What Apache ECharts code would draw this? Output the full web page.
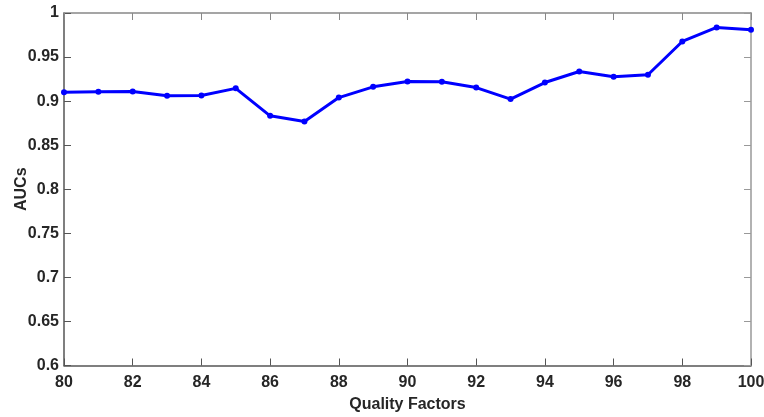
<!DOCTYPE html>
<html>
<head>
<meta charset="utf-8">
<script src="https://cdn.jsdelivr.net/npm/echarts@6/dist/echarts.min.js"></script>
<style>
  html, body { margin: 0; padding: 0; background: #fff; }
  #chart { width: 764px; height: 417px; }
</style>
</head>
<body>
<div id="chart"></div>
<script>
// JPEG quality factors and the AUC measured at each one
const qualityFactors = [80, 81, 82, 83, 84, 85, 86, 87, 88, 89, 90, 91, 92, 93, 94, 95, 96, 97, 98, 99, 100];
const aucValues = [0.910, 0.9106, 0.911, 0.906, 0.9064, 0.9145, 0.8833, 0.8768, 0.904, 0.9162, 0.9222, 0.9219,
                   0.9154, 0.9023, 0.9211, 0.9336, 0.9276, 0.9299, 0.9677, 0.9836, 0.981];
const yTicks = [0.6, 0.65, 0.7, 0.75, 0.8, 0.85, 0.9, 0.95, 1];

const fontFamily = '"Liberation Sans", Arial, Helvetica, sans-serif';
const labelStyle = { color: '#262626', fontSize: 16, fontWeight: 'bold', fontFamily };

const chart = echarts.init(document.getElementById('chart'), null, { renderer: 'canvas' });

const hiddenLabels = { show: false };
chart.setOption({
  animation: false,
  grid: { left: 64, right: 13, top: 13, bottom: 51.5, containLabel: false, outerBoundsMode: 'none' },
  xAxis: [
    {
      type: 'value', min: 80, max: 100, interval: 2,
      name: 'Quality Factors', nameLocation: 'middle', nameGap: 31, nameMoveOverlap: false,
      nameTextStyle: { color: '#262626', fontSize: 16, fontWeight: 'bold', fontFamily },
      axisLine: { show: true, onZero: false, lineStyle: { color: '#555', width: 1.5 } },
      axisTick: { show: true, inside: true, length: 7, lineStyle: { color: '#555' } },
      axisLabel: Object.assign({ margin: 9 }, labelStyle),
      splitLine: { show: false }
    },
    {
      type: 'value', min: 80, max: 100, interval: 2, position: 'top',
      axisLine: { show: true, onZero: false, lineStyle: { color: '#888', width: 1.5 } },
      axisTick: { show: true, inside: true, length: 7, lineStyle: { color: '#888' } },
      axisLabel: hiddenLabels, splitLine: { show: false }
    }
  ],
  yAxis: [
    {
      type: 'value', min: 0.6, max: 1, interval: 0.05,
      name: 'AUCs', nameLocation: 'middle', nameGap: 34, nameMoveOverlap: false,
      nameTextStyle: { color: '#262626', fontSize: 16, fontWeight: 'bold', fontFamily },
      axisLine: { show: true, onZero: false, lineStyle: { color: '#555', width: 1.5 } },
      axisTick: { show: true, inside: true, length: 7, lineStyle: { color: '#555' } },
      axisLabel: Object.assign({
        margin: 5,
        formatter: v => {
          const t = yTicks.find(k => Math.abs(k - v) < 1e-6);
          return t === undefined ? '' : String(t);
        }
      }, labelStyle),
      splitLine: { show: false }
    },
    {
      type: 'value', min: 0.6, max: 1, interval: 0.05, position: 'right',
      axisLine: { show: true, onZero: false, lineStyle: { color: '#999', width: 1.5 } },
      axisTick: { show: true, inside: true, length: 7, lineStyle: { color: '#999' } },
      axisLabel: hiddenLabels, splitLine: { show: false }
    }
  ],
  series: [
    {
      type: 'line',
      data: qualityFactors.map((q, i) => [q, aucValues[i]]),
      lineStyle: { color: '#0000ff', width: 3 },
      itemStyle: { color: '#0000ff' },
      symbol: 'circle', symbolSize: 6,
      clip: false
    }
  ]
});
</script>
</body>
</html>
